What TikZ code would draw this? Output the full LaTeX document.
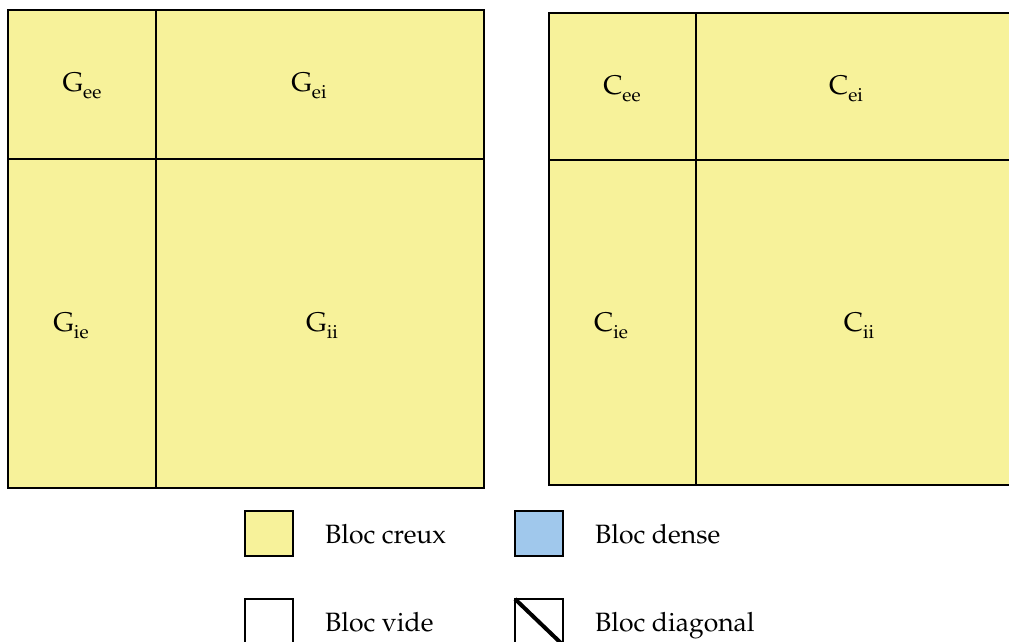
\documentclass[tikz,border=0pt]{standalone}
\usepackage[T1]{fontenc}
\renewcommand\rmdefault{ppl}
\definecolor{creux}{HTML}{F7F29A}
\definecolor{dense}{HTML}{A0C8EC}
\tikzset{
  x=1pt,y=-1pt,
  outer/.style={draw=black,line width=2pt,fill=creux},
  inner/.style={draw=black,line width=1.3pt},
  lbl/.style={anchor=base,inner sep=0pt,font=\fontsize{27}{30}\selectfont},
  legbox/.style={draw=black,line width=1.6pt},
  legtxt/.style={anchor=base west,inner sep=0pt,font=\fontsize{26.5}{30}\selectfont}
}
\newcommand{\sbs}[1]{\raisebox{-7pt}{\fontsize{19}{20}\selectfont #1}}
\begin{document}
\begin{tikzpicture}
\useasboundingbox (0,0) rectangle (1009,641);
\clip (0,0) rectangle (1009,641);
% left matrix
\draw[outer] (8,10) rectangle (484,488);
\draw[inner] (156,10) -- (156,488);
\draw[inner] (8,159) -- (484,159);
\node[lbl] (gee) at (82,91) {G\sbs{ee}};
\node[lbl] (gei) at (309,91) {G\sbs{ei}};
\node[lbl] (gie) at (71,331) {G\sbs{ie}};
\node[lbl] (gii) at (322,331) {G\sbs{ii}};
% right matrix
\draw[outer] (549,13) rectangle (1025,485);
\draw[inner] (696,13) -- (696,485);
\draw[inner] (549,160) -- (1025,160);
\node[lbl] (cee) at (622,94) {C\sbs{ee}};
\node[lbl] (cei) at (846,94) {C\sbs{ei}};
\node[lbl] (cie) at (611,331) {C\sbs{ie}};
\node[lbl] (cii) at (859,331) {C\sbs{ii}};
% legend
\draw[legbox,fill=creux] (245,511) rectangle (293,556);
\node[legtxt] (t1) at (325,543) {Bloc creux};
\draw[legbox,fill=dense] (515,511) rectangle (563,556);
\node[legtxt] (t2) at (595,543) {Bloc dense};
\draw[legbox,fill=white] (245,599) rectangle (293,645);
\node[legtxt] (t3) at (325,631) {Bloc vide};
\draw[legbox,fill=white] (515,599) rectangle (563,645);
\draw[line width=4pt] (515,599) -- (563,645);
\node[legtxt] (t4) at (595,631) {Bloc diagonal};
\end{tikzpicture}
\end{document}
